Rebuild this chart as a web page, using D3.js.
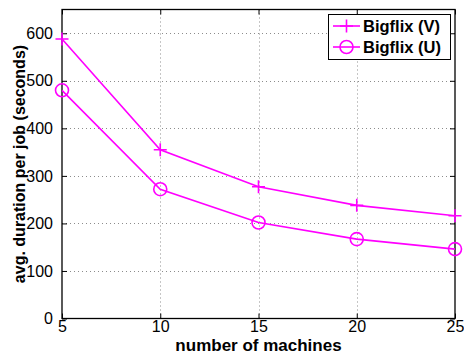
<!DOCTYPE html>
<html>
<head>
<meta charset="utf-8">
<script src="https://cdn.jsdelivr.net/npm/d3@7"></script>
<style>
  html, body { margin: 0; padding: 0; background: #fff; }
  svg { display: block; font-family: "Liberation Sans", Arial, Helvetica, sans-serif; }
</style>
</head>
<body>
<svg id="chart" width="464" height="354"></svg>
<script>
// Average job duration vs. cluster size
const machines = [5, 10, 15, 20, 25];
const bigflixV = [588, 355, 277, 238, 216];
const bigflixU = [480, 272, 202, 167, 146];
const xTicks = [5, 10, 15, 20, 25];
const yTicks = [0, 100, 200, 300, 400, 500, 600];
const seriesNames = ["Bigflix (V)", "Bigflix (U)"];

const color = "#ff00ff";
const margin = { left: 62, right: 9, top: 9.5, bottom: 35.5 };
const W = 464, H = 354;

const svg = d3.select("#chart");
const x = d3.scaleLinear().domain([5, 25]).range([margin.left, W - margin.right]);
const y = d3.scaleLinear().domain([0, 650]).range([H - margin.bottom, margin.top]);

// dotted grid
const grid = svg.append("g").attr("stroke", "#8c8c8c").attr("stroke-width", 1)
  .attr("stroke-dasharray", "1,3");
grid.selectAll(".gy").data(yTicks.filter(d => d > 0)).join("line")
  .attr("x1", x(5)).attr("x2", x(25))
  .attr("y1", d => Math.round(y(d)) + 0.5).attr("y2", d => Math.round(y(d)) + 0.5);
grid.selectAll(".gx").data(xTicks.filter(d => d > 5 && d < 25)).join("line")
  .attr("x1", d => Math.round(x(d)) + 0.5).attr("x2", d => Math.round(x(d)) + 0.5)
  .attr("y1", y(0)).attr("y2", y(650));

// axes with inward ticks on all four sides
const tickLen = 5;
const axB = d3.axisBottom(x).tickValues(xTicks).tickSize(-tickLen).tickPadding(2);
const axT = d3.axisTop(x).tickValues(xTicks).tickSize(-tickLen).tickFormat("");
const axL = d3.axisLeft(y).tickValues(yTicks).tickSize(-tickLen).tickPadding(9);
const axR = d3.axisRight(y).tickValues(yTicks).tickSize(-tickLen).tickFormat("");

function styleAxis(g) {
  g.select(".domain").remove();
  g.selectAll("line").attr("stroke", "#000");
  g.selectAll("text").attr("fill", "#000").style("font-size", "16px");
}
svg.append("g").attr("transform", `translate(0,${y(0)})`).call(axB).call(styleAxis);
svg.append("g").attr("transform", `translate(0,${y(650)})`).call(axT).call(styleAxis);
svg.append("g").attr("transform", `translate(${x(5)},0)`).call(axL).call(styleAxis);
svg.append("g").attr("transform", `translate(${x(25)},0)`).call(axR).call(styleAxis);

// frame
svg.append("rect")
  .attr("x", x(5)).attr("y", y(650))
  .attr("width", x(25) - x(5)).attr("height", y(0) - y(650))
  .attr("fill", "none").attr("stroke", "#000").attr("stroke-width", 1.3);

// series
const line = d3.line().x((d, i) => x(machines[i])).y(d => y(d));
const plot = svg.append("g");
[bigflixV, bigflixU].forEach(vals => {
  plot.append("path").datum(vals).attr("d", line)
    .attr("fill", "none").attr("stroke", color).attr("stroke-width", 1.6);
});

function plusMarker(g, cx, cy, s) {
  g.append("path").attr("d", `M${cx - s},${cy}H${cx + s}M${cx},${cy - s}V${cy + s}`)
    .attr("stroke", color).attr("stroke-width", 1.6).attr("fill", "none");
}
function circleMarker(g, cx, cy, r) {
  g.append("circle").attr("cx", cx).attr("cy", cy).attr("r", r)
    .attr("stroke", color).attr("stroke-width", 1.6).attr("fill", "none");
}
bigflixV.forEach((v, i) => plusMarker(plot, x(machines[i]), y(v), 6.5));
bigflixU.forEach((v, i) => circleMarker(plot, x(machines[i]), y(v), 6.5));

// axis titles
svg.append("text")
  .attr("x", (x(5) + x(25)) / 2).attr("y", 351)
  .attr("text-anchor", "middle").style("font-size", "17px").style("font-weight", "bold")
  .text("number of machines");
svg.append("text")
  .attr("transform", `translate(25,${(y(0) + y(650)) / 2}) rotate(-90)`)
  .attr("text-anchor", "middle").style("font-size", "16px").style("font-weight", "bold")
  .text("avg. duration per job (seconds)");

// legend
const lg = svg.append("g");
lg.append("rect").attr("x", 328.5).attr("y", 14.5).attr("width", 122).attr("height", 45)
  .attr("fill", "#fff").attr("stroke", "#000").attr("stroke-width", 1);
const rows = [26, 47];
seriesNames.forEach((name, i) => {
  const ry = rows[i];
  lg.append("line").attr("x1", 333).attr("x2", 360).attr("y1", ry).attr("y2", ry)
    .attr("stroke", color).attr("stroke-width", 1.6);
  if (i === 0) plusMarker(lg, 346.5, ry, 6.5); else circleMarker(lg, 346.5, ry, 6.5);
  lg.append("text").attr("x", 363).attr("y", ry + 6)
    .style("font-size", "16.5px").style("font-weight", "bold").text(name);
});
</script>
</body>
</html>
